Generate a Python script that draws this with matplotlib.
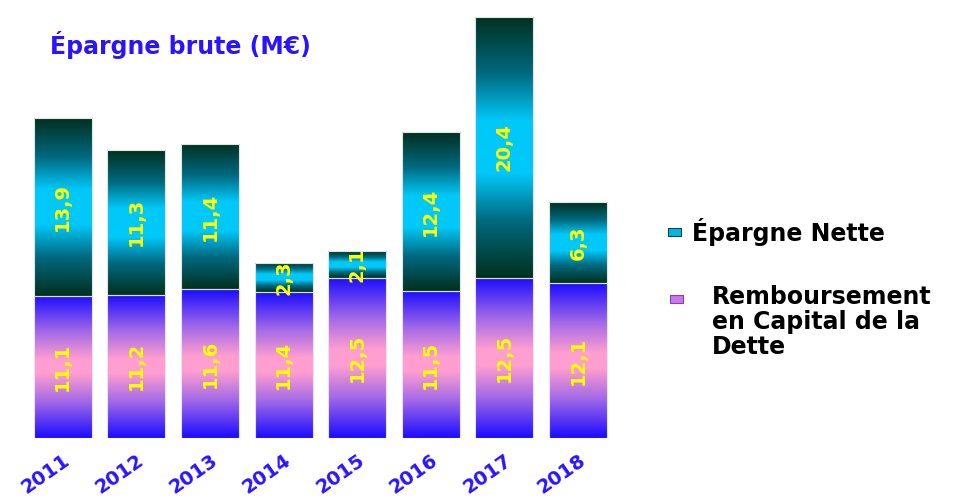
import numpy as np
import matplotlib
matplotlib.use("Agg")
import matplotlib.pyplot as plt
from matplotlib.colors import LinearSegmentedColormap
from matplotlib.patches import Rectangle

# Données : épargne brute décomposée (M€)
annees = ["2011", "2012", "2013", "2014", "2015", "2016", "2017", "2018"]
remboursement = [11.1, 11.2, 11.6, 11.4, 12.5, 11.5, 12.5, 12.1]
epargne_nette = [13.9, 11.3, 11.4, 2.3, 2.1, 12.4, 20.4, 6.3]

plt.rcParams['font.family'] = ['DejaVu Sans']

cmap_bas = LinearSegmentedColormap.from_list(
    "bas", [(0, "#1a0cff"), (0.25, "#a068e8"), (0.45, "#ff9ed0"), (0.55, "#ff9ed0"),
            (0.75, "#a068e8"), (1, "#1a0cff")])
cmap_haut = LinearSegmentedColormap.from_list(
    "haut", [(0, "#00301f"), (0.22, "#006a80"), (0.4, "#00c8f8"), (0.6, "#00c8f8"),
             (0.78, "#006a80"), (1, "#00301f")])
grad = np.linspace(0, 1, 256).reshape(-1, 1)

fig = plt.figure(figsize=(9.59, 5.0), dpi=100)
ax = fig.add_axes([0.0271, 0.124, 0.614, 0.845])

x = np.arange(len(annees))
largeur = 0.79

bas = ax.bar(x, remboursement, width=largeur, color="none",
             edgecolor="#e8e0ff", linewidth=0.8, zorder=3)
haut = ax.bar(x, epargne_nette, width=largeur, bottom=remboursement, color="none",
              edgecolor="#d8e8e0", linewidth=0.8, zorder=3)

# remplissage en dégradé de chaque segment
for barres, cmap in ((bas, cmap_bas), (haut, cmap_haut)):
    for b in barres:
        x0, y0 = b.get_x(), b.get_y()
        im = ax.imshow(grad, cmap=cmap, aspect="auto", zorder=2,
                       extent=[x0, x0 + b.get_width(), y0, y0 + b.get_height()],
                       interpolation="bilinear")
        im.set_clip_path(b)

# étiquettes des valeurs
for i in range(len(annees)):
    yb = remboursement[i] / 2
    yh = remboursement[i] + epargne_nette[i] / 2
    for val, yy in ((remboursement[i], yb), (epargne_nette[i], yh)):
        ax.text(x[i], yy, f"{val:.1f}".replace(".", ","), rotation=90,
                ha="center", va="center", color="#ffff00", fontsize=14,
                fontweight="bold", zorder=4)

ax.set_xlim(-0.5, 7.5)
ax.set_ylim(0, 33)
for s in ax.spines.values():
    s.set_visible(False)
ax.set_yticks([])
ax.set_xticks(x)
ax.set_xticklabels(annees, rotation=35, ha="right", va="top", rotation_mode="anchor",
                   color="#2a14ff", fontsize=14, fontweight="bold")
ax.tick_params(axis="x", length=0, pad=9)
for lab in ax.get_xticklabels():
    lab.set_x(lab.get_position()[0] - 0.12)

fig.text(0.052, 0.91, "Épargne brute (M€)", color="#2a14ff", fontsize=17,
         fontweight="bold", ha="left", va="center")

# légende
fig.patches.append(Rectangle((0.697, 0.528), 0.013, 0.016, transform=fig.transFigure,
                             facecolor="#00b8e0", edgecolor="#004050", linewidth=0.8))
fig.text(0.722, 0.536, "Épargne Nette", fontsize=17, fontweight="bold",
         color="black", ha="left", va="center")
fig.patches.append(Rectangle((0.699, 0.395), 0.013, 0.016, transform=fig.transFigure,
                             facecolor="#c878e8", edgecolor="#8040c0", linewidth=0.8))
fig.text(0.742, 0.43, "Remboursement\nen Capital de la\nDette", fontsize=17,
         fontweight="bold", color="black", ha="left", va="top", linespacing=1.05)

fig.savefig("out.png", dpi=100)
